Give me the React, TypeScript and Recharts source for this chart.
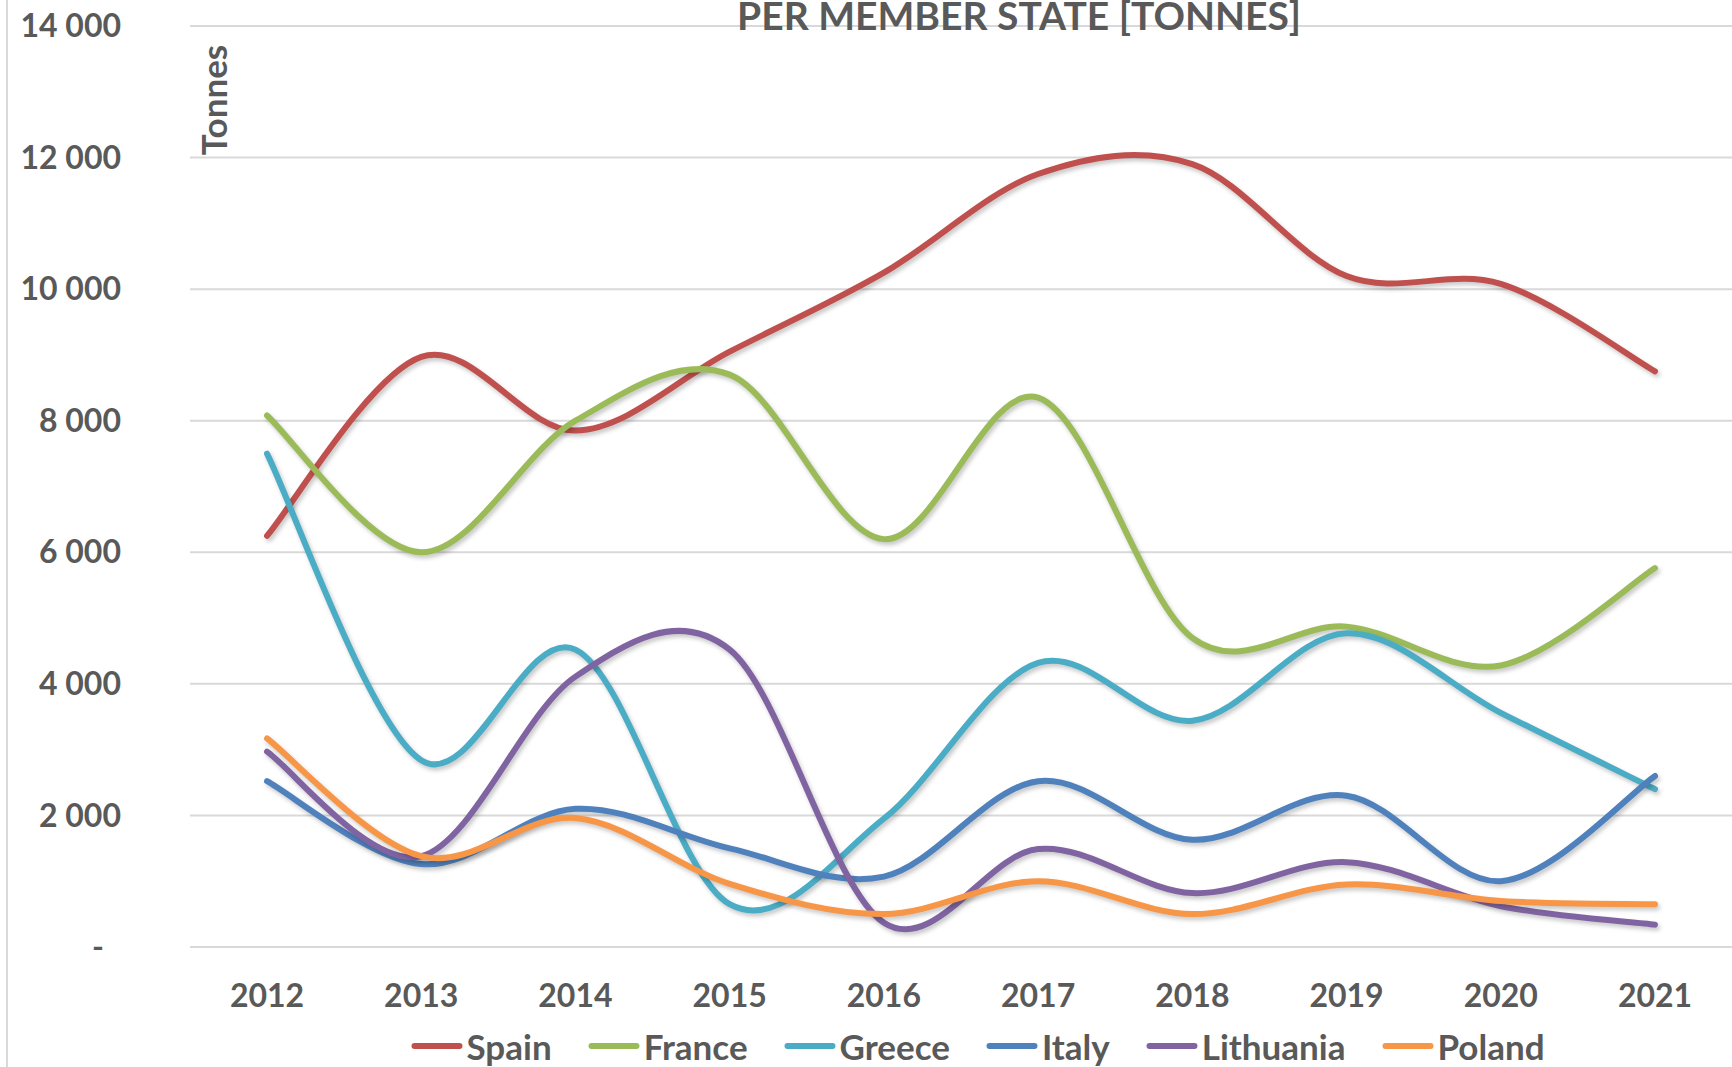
import React from 'react';
import { LineChart, Line, XAxis, YAxis, CartesianGrid } from 'recharts';

const years = ['2012', '2013', '2014', '2015', '2016', '2017', '2018', '2019', '2020', '2021'];
const spain = [6250, 8970, 7850, 9050, 10250, 11750, 11900, 10200, 10080, 8750];
const france = [8080, 6000, 8000, 8700, 6200, 8350, 4700, 4870, 4280, 5760];
const greece = [7500, 2840, 4520, 650, 1950, 4320, 3440, 4770, 3560, 2400];
const italy = [2520, 1260, 2100, 1500, 1070, 2520, 1630, 2300, 1000, 2600];
const lithuania = [2970, 1380, 4110, 4520, 370, 1490, 820, 1290, 620, 340];
const poland = [3170, 1380, 1960, 960, 500, 1000, 500, 950, 700, 650];
const yTicks = [0, 2000, 4000, 6000, 8000, 10000, 12000, 14000];

const series = [
  { name: 'Spain', values: spain, color: '#C0504D' },
  { name: 'France', values: france, color: '#9BBB59' },
  { name: 'Greece', values: greece, color: '#4BACC6' },
  { name: 'Italy', values: italy, color: '#4F81BD' },
  { name: 'Lithuania', values: lithuania, color: '#8064A2' },
  { name: 'Poland', values: poland, color: '#F79646' },
];

const data = years.map((year, i) => {
  const row: Record<string, string | number> = { year };
  series.forEach((s) => {
    row[s.name] = s.values[i];
  });
  return row;
});

const FONT = 'Lato, "Open Sans", sans-serif';
const GREY = '#595959';

// Excel-like smoothed line (Catmull-Rom through every point)
const excelSmooth = (context: any) => {
  let pts: number[][] = [];
  return {
    areaStart() {},
    areaEnd() {},
    lineStart() {
      pts = [];
    },
    lineEnd() {
      if (!pts.length) return;
      context.moveTo(pts[0][0], pts[0][1]);
      for (let i = 0; i < pts.length - 1; i++) {
        const p0 = pts[i - 1] || pts[i];
        const p1 = pts[i];
        const p2 = pts[i + 1];
        const p3 = pts[i + 2] || p2;
        context.bezierCurveTo(
          p1[0] + (p2[0] - p0[0]) / 6,
          p1[1] + (p2[1] - p0[1]) / 6,
          p2[0] - (p3[0] - p1[0]) / 6,
          p2[1] - (p3[1] - p1[1]) / 6,
          p2[0],
          p2[1]
        );
      }
    },
    point(x: number, y: number) {
      pts.push([+x, +y]);
    },
  };
};

const fmt = (v: number) => (v === 0 ? '-' : v.toLocaleString('en-US').replace(/,/g, ' '));

const YTick = (props: any) => {
  const { y, payload } = props;
  const isZero = payload.value === 0;
  return (
    <text
      x={isZero ? 104 : 121}
      y={y}
      dy="0.35em"
      textAnchor="end"
      fill={GREY}
      fontFamily={FONT}
      fontWeight={700}
      fontSize={32}
    >
      {fmt(payload.value)}
    </text>
  );
};

const XTick = (props: any) => {
  const { x, payload } = props;
  return (
    <text x={x} y={1007} textAnchor="middle" fill={GREY} fontFamily={FONT} fontWeight={700} fontSize={32}>
      {payload.value}
    </text>
  );
};

export default function App() {
  return (
    <div style={{ position: 'absolute', top: 0, left: 0, width: 1732, height: 1067, background: '#fff', overflow: 'hidden' }}>
      <style>{`.recharts-line-curve{filter:drop-shadow(2px 3px 2px rgba(0,0,0,0.22));}`}</style>
      <div style={{ position: 'absolute', left: 6, top: 0, width: 2, height: 1067, background: '#D9D9D9' }} />
      <LineChart width={1732} height={1067} data={data} margin={{ top: 26, right: 0, left: 0, bottom: 90 }}>
        <CartesianGrid vertical={false} stroke="#D9D9D9" strokeWidth={2} />
        <XAxis
          dataKey="year"
          height={30}
          padding={{ left: 77, right: 77 }}
          axisLine={{ stroke: '#D9D9D9', strokeWidth: 2 }}
          tickLine={false}
          tick={<XTick />}
          interval={0}
        />
        <YAxis
          width={190}
          domain={[0, 14000]}
          ticks={yTicks}
          axisLine={false}
          tickLine={false}
          tick={<YTick />}
          interval={0}
        />
        {series.map((s) => (
          <Line
            key={s.name}
            dataKey={s.name}
            type={excelSmooth as any}
            stroke={s.color}
            strokeWidth={6}
            strokeLinecap="round"
            dot={false}
            activeDot={false}
            isAnimationActive={false}
          />
        ))}
      </LineChart>
      <div
        style={{
          position: 'absolute',
          left: 1019,
          top: 0,
          transform: 'translateX(-50%)',
          whiteSpace: 'nowrap',
          fontFamily: FONT,
          fontWeight: 700,
          fontSize: 39,
          lineHeight: '31px',
          color: GREY,
        }}
      >
        PER MEMBER STATE [TONNES]
      </div>
      <div
        style={{
          position: 'absolute',
          left: 213,
          top: 100,
          transform: 'translate(-50%, -50%) rotate(-90deg)',
          whiteSpace: 'nowrap',
          fontFamily: FONT,
          fontWeight: 700,
          fontSize: 35,
          lineHeight: '35px',
          color: GREY,
        }}
      >
        Tonnes
      </div>
      <div
        style={{
          position: 'absolute',
          left: 978,
          top: 1046,
          transform: 'translate(-50%, -50%)',
          display: 'flex',
          alignItems: 'center',
          gap: 37,
          whiteSpace: 'nowrap',
          fontFamily: FONT,
          fontWeight: 700,
          fontSize: 35,
          color: GREY,
        }}
      >
        {series.map((s) => (
          <div key={s.name} style={{ display: 'flex', alignItems: 'center', gap: 4 }}>
            <div style={{ width: 51, height: 6, borderRadius: 3, background: s.color }} />
            <span>{s.name}</span>
          </div>
        ))}
      </div>
    </div>
  );
}
